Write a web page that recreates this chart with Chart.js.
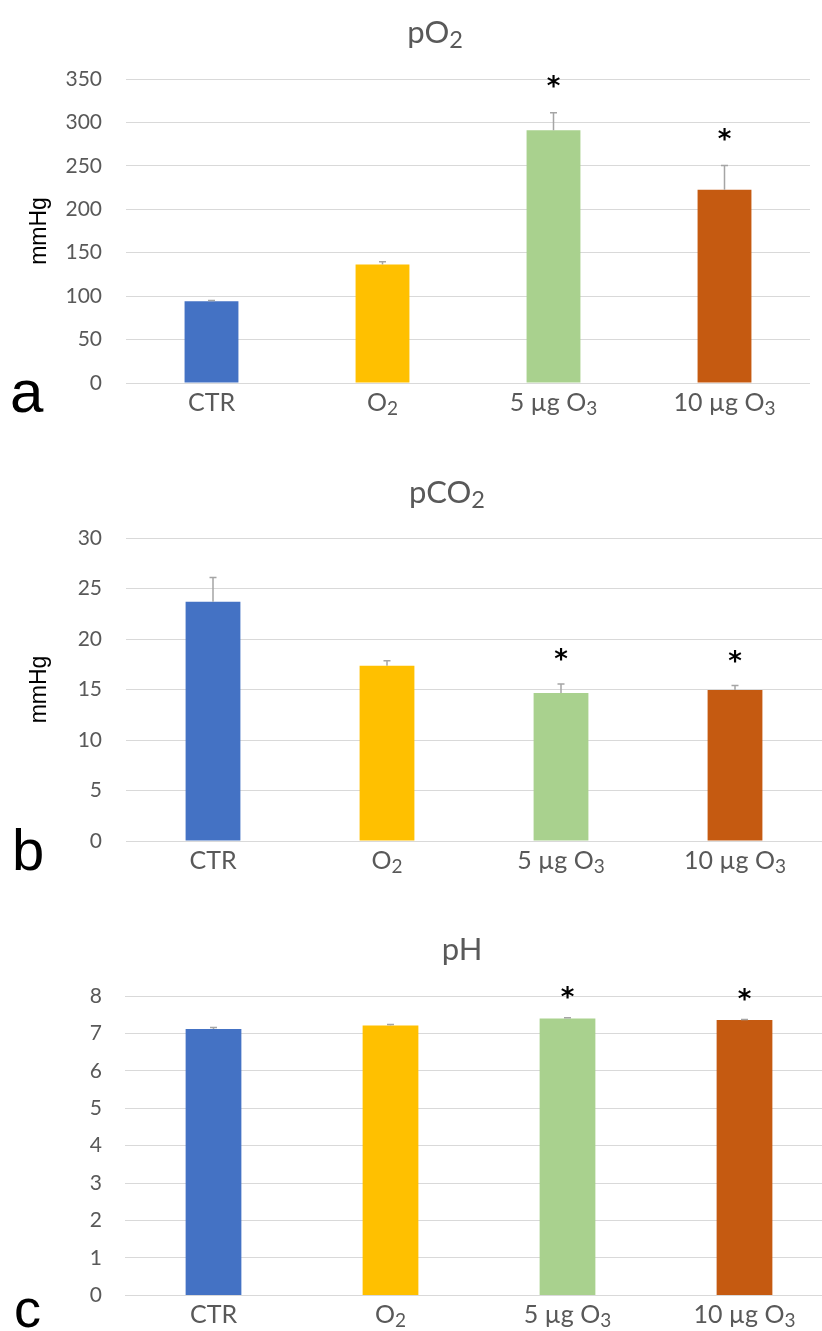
<!DOCTYPE html>
<html>
<head>
<meta charset="utf-8">
<script src="https://cdn.jsdelivr.net/npm/chart.js@4.4.1/dist/chart.umd.min.js"></script>
<style>
html,body{margin:0;padding:0;background:#fff;overflow:hidden;width:822px;height:1331px;position:relative;}
canvas{position:absolute;left:0;display:block;}
</style>
</head>
<body>
<canvas id="chartA" width="822" height="440" style="top:0px;width:822px;height:440px"></canvas>
<canvas id="chartB" width="822" height="430" style="top:460px;width:822px;height:430px"></canvas>
<canvas id="chartC" width="840" height="411" style="top:920px;width:840px;height:411px"></canvas>
<script>
// ---- data ----
const categories = ['CTR', 'O₂', '5 µg O₃', '10 µg O₃'];
const barColors = ['#4472C4', '#FFC000', '#A9D18E', '#C55A11'];
const significant = [false, false, true, true];

const pO2Values = [94, 136.5, 291, 222.5];
const pO2Errors = [1, 3, 20, 28];
const pO2Ticks = { min: 0, max: 350, step: 50 };

const pCO2Values = [23.7, 17.35, 14.65, 14.95];
const pCO2Errors = [2.4, 0.5, 0.9, 0.45];
const pCO2Ticks = { min: 0, max: 30, step: 5 };

const pHValues = [7.12, 7.21, 7.40, 7.36];
const pHErrors = [0.04, 0.03, 0.02, 0.01];
const pHTicks = { min: 0, max: 8, step: 1 };

// ---- helpers ----
const SANS = 'Lato, "Open Sans", "Noto Sans", sans-serif';
const SUBS = '₀₁₂₃₄₅₆₇₈₉';
function drawRich(ctx, text, x, y, size, color) {
  const runs = [];
  for (const ch of text) {
    const i = SUBS.indexOf(ch);
    const sub = i >= 0;
    const c = sub ? String(i) : ch;
    if (runs.length && runs[runs.length - 1].sub === sub) runs[runs.length - 1].t += c;
    else runs.push({ t: c, sub });
  }
  let total = 0;
  runs.forEach(r => {
    ctx.font = (r.sub ? size * 0.76 : size) + 'px ' + SANS;
    r.w = ctx.measureText(r.t).width;
    total += r.w;
  });
  let cx = x - total / 2;
  ctx.fillStyle = color;
  ctx.textAlign = 'left';
  ctx.textBaseline = 'alphabetic';
  runs.forEach(r => {
    ctx.font = (r.sub ? size * 0.76 : size) + 'px ' + SANS;
    ctx.fillText(r.t, cx, r.sub ? y + size * 0.15 : y);
    cx += r.w;
  });
}

const annotPlugin = {
  id: 'annot',
  afterDatasetsDraw(chart, args, o) {
    const ctx = chart.ctx;
    const xs = chart.scales.x, ys = chart.scales.y;
    const meta = chart.getDatasetMeta(0);
    const vals = chart.data.datasets[0].data;
    ctx.save();
    // error bars + asterisks
    o.errors.forEach((e, i) => {
      const bar = meta.data[i];
      const yTop = ys.getPixelForValue(vals[i] + e);
      ctx.strokeStyle = '#A5A5A5';
      ctx.lineWidth = 1.5;
      ctx.beginPath();
      ctx.moveTo(bar.x, bar.y);
      ctx.lineTo(bar.x, yTop);
      ctx.moveTo(bar.x - 3.5, yTop);
      ctx.lineTo(bar.x + 3.5, yTop);
      ctx.stroke();
      if (significant[i]) {
        ctx.font = 'bold 26px "DejaVu Sans", sans-serif';
        ctx.fillStyle = '#000';
        ctx.textAlign = 'center';
        ctx.textBaseline = 'alphabetic';
        const m = ctx.measureText('*');
        const cy = yTop - o.starGap;
        ctx.fillText('*', bar.x, cy + (m.actualBoundingBoxAscent - m.actualBoundingBoxDescent) / 2);
      }
    });
    // category labels
    chart.data.labels.forEach((l, i) => {
      drawRich(ctx, l, xs.getPixelForValue(i), chart.chartArea.bottom + 28, 25, '#595959');
    });
    // title
    drawRich(ctx, o.title, o.titleX, o.titleY, 31, '#595959');
    // panel letter
    ctx.font = o.letterSize + 'px "Liberation Sans", Arial, sans-serif';
    ctx.fillStyle = '#000';
    ctx.textAlign = 'left';
    ctx.textBaseline = 'alphabetic';
    ctx.fillText(o.letter, o.letterX, o.letterY);
    ctx.restore();
  }
};

function makeChart(id, values, errors, ticks, cfg) {
  return new Chart(document.getElementById(id), {
    type: 'bar',
    data: {
      labels: categories,
      datasets: [{
        data: values,
        backgroundColor: barColors,
        borderWidth: 0,
        categoryPercentage: 1,
        barPercentage: 0.315
      }]
    },
    options: {
      responsive: false,
      animation: false,
      events: [],
      layout: { padding: { top: cfg.top, right: cfg.right, left: 0, bottom: 0 } },
      plugins: {
        legend: { display: false },
        tooltip: { enabled: false },
        title: { display: false },
        annot: {
          errors: errors, starGap: cfg.starGap,
          title: cfg.title, titleX: cfg.titleX, titleY: cfg.titleY,
          letter: cfg.letter, letterX: cfg.letterX, letterY: cfg.letterY, letterSize: cfg.letterSize
        }
      },
      scales: {
        x: {
          grid: { display: false },
          border: { display: false },
          ticks: { display: false },
          afterFit: s => { s.height = cfg.xHeight; }
        },
        y: {
          min: ticks.min, max: ticks.max,
          ticks: { stepSize: ticks.step, padding: cfg.tickPad, color: '#595959', font: { family: SANS, size: 21 } },
          grid: { color: '#D9D9D9', lineWidth: 1, drawTicks: false },
          border: { display: false },
          title: {
            display: !!cfg.yTitle, text: cfg.yTitle || '', color: '#000',
            font: { family: '"Liberation Sans", Arial, sans-serif', size: 23 },
            padding: { top: cfg.yTitlePad, bottom: 0 }
          },
          afterFit: s => { s.width = cfg.yWidth; }
        }
      }
    },
    plugins: [annotPlugin]
  });
}

makeChart('chartA', pO2Values, pO2Errors, pO2Ticks, {
  top: 79, right: 12, xHeight: 57, yWidth: 126, tickPad: 24,
  yTitle: 'mmHg', yTitlePad: 26, starGap: 31,
  title: 'pO₂', titleX: 435, titleY: 43,
  letter: 'a', letterX: 10, letterY: 412, letterSize: 60
});
makeChart('chartB', pCO2Values, pCO2Errors, pCO2Ticks, {
  top: 78, right: 0, xHeight: 49, yWidth: 126, tickPad: 24,
  yTitle: 'mmHg', yTitlePad: 26, starGap: 29,
  title: 'pCO₂', titleX: 447, titleY: 43,
  letter: 'b', letterX: 12, letterY: 410, letterSize: 58
});
makeChart('chartC', pHValues, pHErrors, pHTicks, {
  top: 76, right: 7, xHeight: 32, yWidth: 125, tickPad: 23,
  yTitle: '', yTitlePad: 0, starGap: 25,
  title: 'pH', titleX: 462, titleY: 40,
  letter: 'c', letterX: 14, letterY: 407, letterSize: 54
});
</script>
</body>
</html>
